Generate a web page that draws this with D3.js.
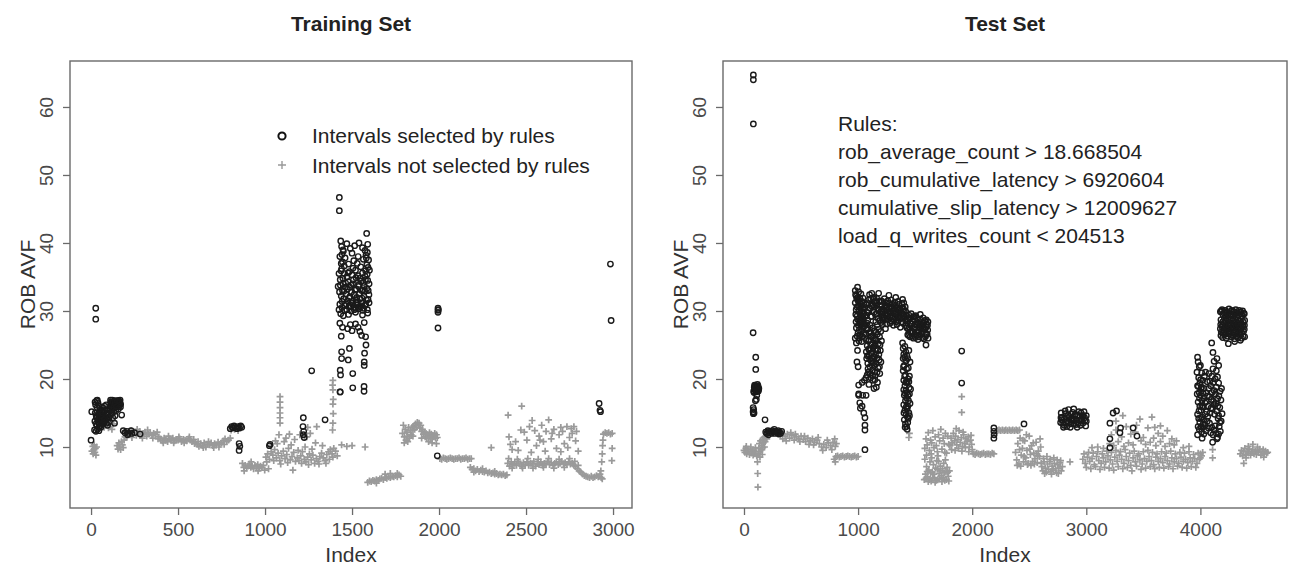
<!DOCTYPE html>
<html><head><meta charset="utf-8">
<script src="https://cdn.jsdelivr.net/npm/d3@7"></script>
<style>body{margin:0;background:#fff}svg{display:block;font-family:"Liberation Sans",Arial,sans-serif}</style>
</head><body><svg id="c" width="1293" height="566"></svg>
<script>
const panelTitles = ["Training Set", "Test Set"];
const xLabel = "Index", yLabel = "ROB AVF";
const yTicks = [10, 20, 30, 40, 50, 60];
const xTicksTrain = [0, 500, 1000, 1500, 2000, 2500, 3000];
const xTicksTest = [0, 1000, 2000, 3000, 4000];
const legendLabels = ["Intervals selected by rules", "Intervals not selected by rules"];
const ruleLines = ["Rules:", "rob_average_count > 18.668504", "rob_cumulative_latency > 6920604", "cumulative_slip_latency > 12009627", "load_q_writes_count < 204513"];

const trainNotSelected = [[5,9.4],[10,10.1],[12,9.0],[15,9.6],[18,10.3],[22,9.2],[25,9.8],[28,8.8],[32,10.0],
[55,13.2],[65,13.8],[75,12.9],[85,13.5],[95,14.2],[100,12.8],[110,13.0],[120,12.6],[130,13.4],
[150,10.2],[155,9.7],[160,10.6],[165,10.0],[170,9.6],[175,10.8],[180,10.3],[185,9.9],[190,11.0],[195,11.5],
[200,12.3],[210,11.8],[220,12.1],[230,12.4],[240,11.9],[250,12.2],[260,11.7],[270,12.0],[280,12.3],[290,11.8],[300,12.0],[310,12.2],[320,11.6],[330,11.9],[340,12.1],[350,11.7],[360,12.0],[370,11.8],[380,12.2],[390,11.5],
[205,11.5],[235,11.4],[265,12.6],[295,11.3],[325,12.5],[355,11.3],[385,11.2],
[400,11.2],[410,10.9],[420,11.3],[430,11.0],[440,10.8],[450,11.2],[460,11.0],[470,11.3],[480,10.9],[490,11.1],[500,11.0],[510,11.2],[520,10.8],[530,11.1],[540,11.0],[550,10.9],[560,11.2],[570,11.0],[580,10.8],[590,11.1],[600,10.7],
[415,10.6],[445,11.6],[475,10.6],[505,11.5],[535,10.6],[565,11.5],[595,10.5],
[610,10.4],[620,10.1],[630,10.5],[640,10.2],[650,10.6],[660,10.0],[670,10.4],[680,10.3],[690,10.6],[700,10.2],[710,10.5],[720,10.3],[730,10.7],[740,10.4],[750,10.6],[760,10.9],[770,11.2],[780,10.8],[790,11.0],[800,11.3],
[615,10.8],[645,9.9],[675,10.8],[705,9.9],[735,10.0],[765,10.4],
[805,12.5],[815,12.9],[825,12.6],[845,12.4],
[870,7.6],[878,7.0],[886,7.3],[894,6.9],[902,7.2],[910,7.5],[918,7.0],[926,7.2],[934,6.8],[942,7.3],[950,7.1],[958,7.4],[966,6.9],[974,7.2],[982,7.0],[990,7.3],[998,6.6],[880,6.5],[920,7.8],[960,6.5],
[1005,8.5],[1015,9.0],[1025,8.2],[1035,9.3],[1045,8.8],[1055,9.6],[1065,8.4],[1075,9.1],[1085,8.0],[1095,8.7],[1105,9.4],[1115,8.3],[1125,8.9],[1135,9.8],[1145,8.1],[1155,8.6],[1165,9.2],[1175,7.9],[1185,8.4],[1195,8.0],[1205,8.7],[1215,9.3],[1225,8.2],[1235,7.8],[1245,8.5],[1255,9.0],[1265,8.1],[1275,8.8],[1285,7.6],[1295,8.3],[1305,7.9],[1315,8.6],[1325,9.1],[1335,8.4],[1345,8.0],[1355,8.9],[1365,9.3],[1375,9.6],[1385,9.0],[1395,9.8],[1405,9.4],[1415,8.7],
[1010,7.8],[1030,10.2],[1050,8.0],[1070,10.5],[1090,7.5],[1110,10.8],[1130,7.7],[1150,10.3],[1170,11.1],[1190,9.5],[1210,7.6],[1230,10.0],[1250,7.4],[1270,9.7],[1290,10.6],[1310,7.5],[1330,10.2],[1350,7.6],[1370,8.2],[1390,8.5],[1020,6.8],[1160,6.6],[1240,11.5],[1260,12.0],[1200,11.8],[1120,11.3],[1140,11.9],[1060,10.9],[1080,11.8],
[1086,13.5],[1086,14.3],[1086,15.0],[1086,15.8],[1086,16.6],[1086,17.4],
[1388,12.5],[1390,13.5],[1392,14.9],[1390,16.3],[1392,17.0],[1390,18.4],[1388,19.1],[1390,19.8],
[1228,11.5],[1245,12.9],[1297,13.0],
[1440,10.3],[1470,10.1],[1500,10.2],[1575,10.0],
[1590,4.8],[1600,5.0],[1610,4.9],[1620,5.1],[1630,5.0],[1640,5.2],[1650,5.1],[1660,5.3],[1670,5.4],[1680,5.2],[1690,5.5],[1700,5.4],[1710,5.6],[1720,5.5],[1730,5.7],[1740,5.6],[1750,5.8],[1760,5.6],[1770,5.9],[1780,5.7],[1690,6.0],[1720,6.1],[1640,4.7],[1760,6.1],
[1790,12.0],[1795,13.2],[1800,11.5],[1805,12.6],[1810,11.0],[1815,12.2],[1820,11.6],[1825,12.9],[1830,11.3],[1835,12.4],[1840,11.8],[1845,12.9],[1850,12.5],[1855,13.1],[1860,12.6],[1865,13.4],[1870,12.9],[1875,13.6],[1880,13.2],[1885,13.5],[1890,12.8],[1895,13.2],[1900,12.3],[1905,12.6],[1910,11.9],[1915,12.2],[1920,11.5],[1925,12.0],[1930,11.3],[1935,11.8],[1940,11.6],[1945,12.1],[1950,11.4],[1955,11.9],[1960,11.2],[1965,11.7],[1970,11.5],[1975,12.0],[1980,11.3],[1985,11.8],[1990,11.4],[1800,10.6],[1820,10.8],[1850,11.6],[1900,11.3],[1940,10.8],[1960,10.6],[1985,10.5],
[2005,8.3],[2015,8.2],[2025,8.4],[2035,8.3],[2045,8.2],[2055,8.3],[2065,8.4],[2075,8.3],[2085,8.2],[2095,8.3],[2105,8.3],[2115,8.4],[2125,8.2],[2135,8.3],[2145,8.3],[2155,8.4],[2165,8.2],[2175,8.3],[2185,8.3],
[2180,7.0],[2190,6.7],[2200,6.8],[2210,6.5],[2220,6.7],[2230,6.4],[2240,6.6],[2250,6.4],[2260,6.3],[2270,6.5],[2280,6.2],[2290,6.3],[2300,6.1],[2310,6.2],[2320,6.0],[2330,6.1],[2340,5.9],[2350,6.0],[2360,5.9],[2370,6.0],[2380,5.8],[2390,5.9],[2200,6.3],[2250,6.8],[2320,6.4],
[2300,9.9],
[2395,7.6],[2405,7.2],[2415,7.8],[2425,7.4],[2435,7.6],[2445,7.3],[2455,7.9],[2465,7.5],[2475,7.2],[2485,7.7],[2495,7.4],[2505,7.8],[2515,7.3],[2525,7.6],[2535,7.5],[2545,7.9],[2555,7.2],[2565,7.6],[2575,7.4],[2585,7.8],[2595,7.3],[2605,7.6],[2615,7.5],[2625,7.9],[2635,7.4],[2645,7.7],[2655,7.3],[2665,7.6],[2675,7.8],[2685,7.4],[2695,7.6],[2705,7.9],[2715,7.5],[2725,7.7],[2735,7.4],[2745,7.8],[2755,7.5],[2765,7.6],[2775,7.3],[2785,7.1],[2795,6.8],[2805,6.5],[2815,6.3],[2825,6.0],[2835,5.8],[2845,5.7],
[2400,8.3],[2420,6.9],[2450,8.2],[2480,6.9],[2510,8.3],[2540,6.9],[2570,8.2],[2600,7.0],[2630,8.3],[2660,6.9],[2690,8.2],[2720,7.0],[2750,8.3],[2780,7.9],[2800,7.3],
[2397,14.7],[2402,11.5],[2410,10.4],[2420,9.6],[2440,10.8],[2475,16.0],[2490,12.2],[2505,11.0],[2520,13.0],[2535,13.9],[2550,12.4],[2560,10.2],[2575,11.6],[2590,13.2],[2600,10.8],[2615,12.3],[2630,14.0],[2645,11.2],[2660,12.6],[2675,9.8],[2690,11.8],[2700,12.9],[2720,10.5],[2735,13.0],[2750,11.4],[2760,12.7],[2775,13.0],[2785,10.9],[2800,9.4],[2455,9.5],[2530,9.2],[2610,9.4],[2700,9.3],[2470,12.5],[2580,11.0],[2650,12.0],[2710,12.3],[2740,9.9],[2765,12.0],[2790,12.3],
[2855,5.6],[2865,5.5],[2875,5.7],[2885,5.5],[2895,5.6],[2905,5.8],[2915,5.6],[2925,6.0],
[2930,6.5],[2935,7.8],[2938,9.0],[2940,10.2],[2942,11.0],[2932,5.5],
[2945,11.9],[2955,12.1],[2965,12.0],[2975,12.1],[2985,11.9],[2995,12.0],
[2995,9.8],[2993,8.0],[2938,5.3]];

const trainSelected = [[0,11.0],[4,15.2],[27,30.4],[27,28.8],
[20,12.5],[22,13.8],[24,15.0],[26,16.2],[28,12.3],[30,14.5],[32,16.8],[34,13.2],[35,15.8],[37,12.6],[38,14.0],[40,16.5],[42,13.6],[44,15.0],[45,12.4],[46,16.0],[48,14.4],[50,13.0],[52,15.5],[54,14.2],[56,13.5],[58,14.8],[60,13.9],[62,15.3],[64,14.0],[66,13.4],[68,15.8],[70,14.6],[72,13.6],[74,15.1],[76,14.2],[78,16.0],[80,13.8],[82,15.4],[85,14.5],[88,13.5],[90,15.0],[92,14.1],[95,13.2],[98,14.8],[100,13.6],[104,14.3],
[23,16.6],[29,13.4],[33,14.3],[36,16.9],[41,14.8],[47,13.0],[53,14.9],[57,12.9],[63,14.6],[67,15.0],[73,14.0],[77,15.4],[83,14.2],[87,16.2],[93,15.5],
[110,16.0],[113,16.6],[116,15.8],[119,16.4],[122,16.9],[125,16.2],[128,15.7],[131,16.5],[134,16.1],[137,16.8],[140,15.9],[143,16.4],[146,16.7],[149,16.0],[152,16.5],[155,16.2],[158,16.8],[161,16.0],[164,16.4],[167,16.9],[170,16.3],[120,15.0],[125,14.3],[135,13.5],[130,15.2],[115,14.8],
[112,16.9],[118,16.2],[124,15.5],[127,16.7],[133,15.8],[139,16.4],[145,15.9],[151,16.8],[157,15.6],[163,16.7],[169,15.9],[138,14.6],[142,15.3],
[176,14.7],
[185,12.4],[195,12.1],[205,12.3],[215,12.0],[210,11.8],[234,12.0],[282,11.9],[250,12.1],[230,12.4],
[800,12.7],[808,13.0],[815,12.8],[822,13.1],[830,12.9],[838,12.7],[845,13.0],[852,12.8],[860,13.1],[866,12.9],
[851,10.5],[851,9.5],[855,10.1],
[1029,10.4],[1025,10.2],
[1220,14.3],[1218,13.0],[1222,12.3],[1220,11.8],[1225,11.4],[1268,21.2],[1345,14.0],
[1427,46.7],[1427,44.75],[1584,41.4],
[1435,40.3],[1440,39.5],[1450,38.8],[1470,39.9],[1490,39.2],[1500,38.5],[1515,39.6],[1540,40.0],[1560,39.3],[1575,38.9],[1590,39.8],[1580,38.2],[1595,37.5],[1430,38.0],[1445,37.2],[1460,37.8],[1480,36.9],[1510,37.4],[1530,37.0],[1550,36.5],[1565,37.6],[1585,36.8],[1440,36.2],[1455,35.5],[1470,35.0],[1485,35.8],[1500,35.3],[1520,36.0],[1535,35.2],[1545,34.8],[1560,35.6],[1575,35.1],[1590,34.5],[1425,35.5],[1432,34.6],[1448,34.0],[1462,33.5],[1478,34.3],[1495,33.8],[1508,34.6],[1525,33.2],[1540,33.9],[1555,33.0],[1570,33.7],[1585,33.3],[1598,34.0],[1428,32.8],[1438,32.2],[1452,31.8],[1465,32.5],[1475,31.5],[1488,32.1],[1498,31.2],[1512,32.4],[1522,31.6],[1532,30.9],[1545,31.8],[1558,31.2],[1568,32.2],[1578,31.0],[1592,31.7],[1430,31.0],[1442,30.5],[1458,30.8],[1470,30.2],[1482,30.7],[1495,30.0],[1505,30.9],[1518,30.4],[1528,31.3],[1538,30.3],[1550,30.6],[1562,30.1],[1575,30.8],[1588,30.2],[1598,31.2],[1435,29.6],[1450,29.3],[1480,29.5],[1520,29.8],[1560,29.4],[1590,29.7],[1445,33.0],[1505,36.3],[1565,34.2],[1455,36.6],[1535,38.0],[1600,36.0],[1420,33.6],
[1425,30.2],[1433,33.8],[1437,35.9],[1443,31.4],[1447,34.8],[1453,32.9],[1457,30.1],[1463,34.1],[1467,31.0],[1473,33.2],[1477,35.6],[1483,31.9],[1487,33.5],[1493,30.6],[1497,32.8],[1503,34.0],[1507,31.5],[1513,30.2],[1517,33.1],[1523,34.9],[1527,32.0],[1533,30.5],[1537,33.6],[1543,32.5],[1547,30.8],[1553,34.4],[1557,31.9],[1563,33.1],[1567,30.4],[1573,32.9],[1577,34.6],[1583,31.6],[1587,35.4],[1593,33.0],[1597,32.4],[1582,37.8],[1588,38.6],[1592,36.4],[1578,35.9],[1448,39.0],[1442,38.3],[1438,37.0],
[1430,28.2],[1445,27.6],[1475,27.4],[1490,28.0],[1500,27.1],[1520,28.1],[1535,27.6],[1545,27.0],[1555,26.4],[1570,28.3],[1578,26.2],[1438,26.3],[1580,25.0],[1572,23.8],[1570,22.5],[1570,22.0],[1440,23.0],[1478,22.8],[1432,21.3],[1434,20.6],[1504,20.8],[1432,18.1],[1504,18.7],[1569,18.9],[1569,18.2],[1431,18.1],[1440,24.0],[1485,24.5],
[1994,30.4],[1994,30.1],[1994,29.8],[1996,30.2],[1994,27.5],[1990,8.7],
[2920,16.4],[2925,15.4],[2928,15.2],[2985,36.9],[2989,28.6]];

const testNotSelected = [[0,9.5],[8,9.2],[16,9.8],[24,9.0],[32,9.6],[40,9.3],[48,8.9],[56,9.7],[64,9.1],[72,9.4],[80,8.8],[88,9.5],[96,9.0],[104,9.3],[112,8.7],[20,10.1],[60,10.0],[100,9.9],
[118,7.8],[120,6.1],[122,4.1],
[125,9.0],[130,9.8],[135,10.5],[140,9.3],[145,10.9],[150,9.6],[155,10.2],[160,11.1],[165,9.9],[170,10.6],[175,11.4],[180,10.0],[185,10.8],[190,11.6],[195,12.3],[200,11.2],[140,8.5],[160,8.9],
[320,11.8],[340,11.2],[360,11.6],[380,11.9],[400,11.3],[420,11.7],[440,11.0],[460,11.5],[480,11.2],[500,11.6],[330,12.3],[370,10.9],[410,12.1],[450,11.9],[490,10.8],
[520,11.1],[540,10.8],[560,11.3],[580,10.9],[600,11.2],[620,10.7],[640,11.0],[530,11.6],[570,10.4],[610,10.3],[650,11.4],
[660,10.5],[680,10.0],[700,10.4],[720,9.9],[740,10.6],[760,10.2],[780,10.7],[800,10.1],[690,9.5],[730,11.0],[770,9.6],[795,11.2],[810,10.5],
[790,8.2],[805,8.6],[820,8.7],[835,8.5],[850,8.6],[865,8.7],[880,8.5],[895,8.6],[910,8.7],[925,8.6],[940,8.5],[955,8.6],[970,8.7],[985,8.5],[1000,8.6],[800,7.8],
[1450,12.0],[1445,11.4],
[1580,5.2],[1590,6.0],[1600,7.1],[1610,5.6],[1620,6.6],[1630,7.8],[1640,5.0],[1650,6.3],[1660,7.4],[1670,5.5],[1680,6.9],[1690,8.0],[1700,5.3],[1710,6.1],[1720,7.2],[1730,5.8],[1740,6.8],[1750,7.6],[1760,5.1],[1770,6.4],[1780,7.0],[1790,5.7],[1800,6.5],[1585,8.2],[1615,4.9],[1645,8.4],[1675,4.8],[1705,7.9],[1735,4.9],[1765,8.1],[1795,5.0],[1595,5.4],[1625,5.2],[1655,5.4],[1685,5.1],[1715,5.3],[1745,5.5],[1775,5.2],[1605,6.4],[1635,6.2],[1665,6.0],[1695,6.7],[1725,6.5],[1755,6.2],[1785,6.3],
[1585,9.8],[1595,11.2],[1605,10.3],[1615,12.1],[1625,9.5],[1635,11.0],[1645,10.6],[1655,12.4],[1665,9.9],[1675,11.5],[1685,10.2],[1695,9.3],[1705,11.8],[1715,10.9],[1725,12.6],[1735,9.7],[1745,11.3],[1755,10.5],[1765,12.0],[1775,9.1],[1785,11.6],[1795,10.4],[1600,8.8],[1640,9.0],[1700,8.7],[1760,9.2],
[1805,10.2],[1815,11.3],[1825,10.6],[1835,12.0],[1845,10.9],[1855,11.6],[1865,10.3],[1875,11.1],[1885,12.4],[1895,10.7],[1905,11.4],[1915,10.1],[1925,11.8],[1935,10.5],[1945,11.2],[1955,10.8],[1965,11.5],[1975,10.0],[1985,11.0],[1995,10.4],[1820,9.6],[1850,9.5],[1880,9.8],[1910,9.4],[1940,9.9],[1970,9.3],[2000,9.6],[1860,12.7],[1920,12.2],[1990,11.7],
[1908,17.4],[1908,15.1],
[2010,9.0],[2025,8.9],[2040,9.1],[2055,9.0],[2070,8.9],[2085,9.0],[2100,9.1],[2115,8.9],[2130,9.0],[2145,9.0],[2160,8.9],[2175,9.1],[2190,9.0],
[2220,12.4],[2235,12.5],[2250,12.4],[2265,12.5],[2280,12.4],[2295,12.5],[2310,12.4],[2325,12.5],[2340,12.4],[2355,12.5],[2370,12.4],[2385,12.5],[2400,12.4],[2415,12.5],
[2380,9.2],[2390,8.1],[2400,10.5],[2410,7.5],[2420,11.3],[2430,8.8],[2440,9.8],[2450,7.8],[2460,10.9],[2470,8.4],[2480,9.5],[2490,7.6],[2500,11.6],[2510,8.9],[2520,10.2],[2530,7.9],[2540,9.1],[2550,8.3],[2560,10.7],[2570,7.7],[2580,9.4],[2590,8.6],[2600,10.0],[2395,7.3],[2425,7.2],[2455,8.6],[2485,7.4],[2515,7.3],[2545,7.5],[2575,8.7],[2605,7.6],[2415,9.6],[2445,11.0],[2475,11.8],[2505,9.7],[2535,10.6],[2565,9.0],[2595,11.2],
[2610,7.1],[2620,6.5],[2630,7.8],[2640,6.9],[2650,6.3],[2660,7.5],[2670,6.7],[2680,7.9],[2690,6.4],[2700,7.2],[2710,6.6],[2720,7.6],[2730,6.8],[2740,6.2],[2750,7.4],[2760,6.9],[2770,7.7],[2780,6.5],[2790,7.1],[2625,8.3],[2655,8.6],[2685,8.2],[2715,8.4],[2745,8.1],[2775,8.0],[2635,6.1],[2695,6.0],[2755,6.1],
[2857,7.8],
[2970,8.2],[2990,7.6],[3010,8.5],[3030,7.9],[3050,8.3],[3070,7.4],[3090,8.6],[3110,8.0],[3130,7.6],[3150,8.4],[3170,7.8],[3190,8.7],[3210,8.1],[3230,7.5],[3250,8.5],[3270,7.9],[3290,8.8],[3310,8.2],[3330,7.6],[3350,8.6],[3370,8.0],[3390,7.3],[3410,8.4],[3430,7.8],[3450,8.7],[3470,8.1],[3490,7.5],[3510,8.3],[3530,7.9],[3550,8.6],[3570,8.0],[3590,7.4],[3610,8.5],[3630,7.9],[3650,8.3],[3670,7.7],[3690,8.6],[3710,8.0],[3730,7.5],[3750,8.4],[3770,7.8],[3790,8.3],[3810,7.6],[3830,8.5],[3850,7.9],[3870,8.2],[3890,7.7],[3910,8.4],[3930,7.9],[3950,8.3],[3970,7.6],[3990,8.2],
[2980,9.0],[3000,7.0],[3020,9.2],[3040,6.8],[3060,9.1],[3080,7.1],[3100,9.3],[3120,6.7],[3140,9.0],[3160,7.0],[3180,9.4],[3200,6.9],[3220,9.2],[3240,6.6],[3260,9.5],[3280,7.1],[3300,9.3],[3320,6.8],[3340,9.6],[3360,7.0],[3380,9.1],[3400,6.5],[3420,9.4],[3440,7.2],[3460,9.0],[3480,6.7],[3500,9.3],[3520,6.9],[3540,9.5],[3560,7.1],[3580,9.2],[3600,6.8],[3620,9.0],[3640,7.0],[3660,9.3],[3680,6.9],[3700,9.1],[3720,7.1],[3740,9.4],[3760,6.8],[3780,9.0],[3800,7.2],[3820,9.2],[3840,7.0],[3860,9.1],[3880,6.9],[3900,9.3],[3920,7.1],[3940,8.9],[3960,7.0],[3980,9.1],[4000,8.4],
[3205,10.5],[3220,11.8],[3240,10.2],[3260,12.5],[3280,10.8],[3310,11.5],[3330,10.1],[3350,13.0],[3370,10.6],[3390,11.9],[3410,10.3],[3430,12.2],[3470,14.1],[3480,10.9],[3500,11.4],[3520,10.4],[3540,12.8],[3560,10.7],[3575,14.4],[3590,11.3],[3610,10.2],[3630,12.0],[3650,10.8],[3670,11.6],[3690,10.1],[3710,12.4],[3730,10.5],[3750,11.2],[3770,10.3],[3790,10.9],[3260,13.8],[3320,14.6],[3440,13.2],[3650,13.1],[3600,12.9],[3150,9.8],[3100,10.0],[3050,9.9],[3850,9.9],[3900,10.1],
[4000,9.0],[4010,8.7],[4020,9.2],
[4107,9.6],[4107,8.4],
[4350,9.0],[4360,9.5],[4370,8.7],[4380,9.3],[4390,9.8],[4400,8.9],[4410,9.4],[4420,9.1],[4430,9.7],[4440,8.8],[4450,9.3],[4460,9.6],[4470,9.0],[4480,9.4],[4490,8.9],[4500,9.5],[4510,9.2],[4520,9.7],[4530,8.8],[4540,9.3],[4550,9.6],[4560,9.0],[4570,9.4],[4580,9.1],[4590,9.2],[4380,7.6],[4460,10.4],[4420,10.1],[4500,10.0],[4555,8.5],[4400,8.4]];

const testSelected = [[82,64.7],[82,64.0],[82,57.5],[80,26.8],[103,23.2],[103,21.4],
[85,18.2],[90,18.8],[95,18.4],[100,19.0],[105,18.3],[110,18.7],[115,18.5],[120,18.9],[125,18.2],[130,18.6],[112,17.6],[118,19.2],[108,17.0],[100,16.8],
[88,18.0],[93,19.1],[98,18.5],[103,18.1],[108,18.9],[113,18.2],[118,18.6],[123,19.0],[128,18.4],
[80,15.2],[82,14.9],[85,15.5],[88,15.0],[80,15.8],
[184,14.0],
[190,12.2],[200,12.0],[210,12.4],[220,12.1],[230,12.3],[240,12.0],[250,12.4],[260,12.2],[270,12.0],[280,12.3],[290,12.1],[300,12.4],[310,12.2],[320,12.0],[330,12.3],[215,11.8],[265,12.6],[305,11.9],
[975,33.0],[985,32.2],[995,33.5],[1005,32.8],[1015,31.9],[1025,32.5],[975,31.2],[990,30.6],[1000,31.5],[1010,30.2],[1020,31.0],[1030,29.8],[1040,30.5],[1050,29.6],[980,29.5],[995,28.8],[1005,29.9],[1015,28.4],[1025,29.2],[1035,28.0],[1045,28.9],[1055,27.8],[985,27.5],[1000,26.8],[1010,27.2],[1020,26.5],[1030,27.0],[1040,26.2],[975,26.0],[985,25.3],[995,24.2],[990,22.5],[1000,21.8],[1008,25.6],
[978,32.4],[983,30.2],[988,31.8],[993,29.3],[998,32.0],[1003,30.8],[1008,28.9],[1013,31.3],[1018,29.6],[1023,30.6],[1028,28.5],[1033,31.4],[1038,29.1],[1043,31.9],[1048,28.2],[1053,30.9],[982,28.4],[992,26.3],[1002,27.9],[1012,26.0],[1022,28.0],[1032,25.5],[1042,27.6],[1052,26.7],
[1005,19.1],[1005,17.6],[1015,16.5],[1020,15.7],[1060,14.3],[1060,13.2],[1060,12.5],[1060,9.6],[1005,17.8],[1040,17.6],[1035,16.0],[1050,15.0],[1055,19.8],[1070,17.6],[1035,19.5],
[1060,30.5],[1070,29.4],[1080,31.2],[1090,30.1],[1100,32.4],[1110,31.8],[1120,32.6],[1130,30.9],[1140,32.0],[1150,31.4],[1065,28.0],[1075,27.2],[1085,28.6],[1095,26.8],[1105,27.9],[1115,26.3],[1125,27.5],[1135,26.0],[1145,27.1],[1155,28.4],[1165,29.6],[1175,28.9],[1185,30.2],[1070,25.8],[1080,24.9],[1090,25.6],[1100,24.3],[1110,25.1],[1120,23.8],[1130,24.6],[1140,23.3],[1150,24.9],[1160,25.7],[1170,26.6],[1180,27.3],[1190,28.6],[1075,23.0],[1085,22.3],[1095,23.5],[1105,21.8],[1115,22.7],[1125,21.3],[1135,22.4],[1145,21.0],[1155,22.2],[1165,23.1],[1175,21.6],[1185,22.8],[1195,24.2],[1080,20.6],[1090,21.0],[1110,20.2],[1130,19.8],[1150,20.5],[1170,19.5],[1160,18.8],[1190,20.8],[1200,22.5],[1205,25.6],[1210,29.0],[1095,19.2],[1140,18.6],[1070,20.2],[1120,29.2],[1140,29.8],[1160,30.8],[1180,32.6],[1200,31.5],
[1062,29.2],[1072,31.0],[1082,29.8],[1092,31.6],[1102,30.4],[1112,29.2],[1122,30.7],[1132,31.8],[1142,30.6],[1152,29.5],[1162,31.9],[1172,30.3],[1182,31.4],[1068,26.6],[1078,28.2],[1088,27.4],[1098,25.7],[1108,26.9],[1118,25.0],[1128,26.3],[1138,24.8],[1148,25.9],[1158,26.9],[1168,28.0],[1178,25.2],[1188,26.2],[1198,27.0],[1072,24.0],[1082,23.4],[1092,24.4],[1102,22.9],[1112,23.8],[1122,22.4],[1132,23.0],[1142,22.0],[1152,23.6],[1162,24.5],[1172,24.2],[1182,23.6],[1192,25.0],[1087,21.5],[1107,20.8],[1127,20.5],[1147,19.9],[1167,21.0],[1187,21.8],
[1195,30.8],[1205,29.5],[1215,30.3],[1225,29.0],[1235,30.7],[1245,29.4],[1255,30.1],[1265,28.7],[1275,29.9],[1285,30.6],[1295,29.2],[1305,30.0],[1315,28.8],[1325,29.6],[1335,30.4],[1345,29.1],[1355,30.2],[1365,28.9],[1375,29.7],[1385,30.5],[1395,29.3],[1405,30.0],[1415,28.6],[1425,29.4],[1200,28.3],[1220,28.6],[1240,31.2],[1260,31.5],[1280,28.2],[1300,31.0],[1320,31.3],[1340,28.0],[1360,31.0],[1380,28.4],[1400,31.2],[1420,27.8],[1230,31.8],[1290,31.6],[1350,31.4],[1210,31.4],[1250,28.1],[1310,27.9],[1370,27.6],[1330,32.0],[1390,31.7],[1270,32.3],[1240,27.4],
[1198,29.9],[1208,30.7],[1218,29.2],[1228,30.1],[1238,29.6],[1248,30.6],[1258,29.3],[1268,30.5],[1278,29.1],[1288,29.7],[1298,30.4],[1308,29.1],[1318,30.0],[1328,29.0],[1338,29.7],[1348,30.4],[1358,29.3],[1368,30.2],[1378,29.0],[1388,29.6],[1398,30.3],[1408,29.1],[1418,29.9],[1203,30.0],[1233,28.8],[1263,29.7],[1293,28.5],[1323,30.8],[1353,28.6],[1383,31.1],[1413,30.6],[1213,28.0],[1273,31.1],[1333,28.4],[1393,28.2],
[1430,28.5],[1440,27.3],[1450,28.9],[1460,26.8],[1470,28.1],[1480,27.0],[1490,29.2],[1500,27.6],[1510,26.4],[1520,28.3],[1530,27.1],[1540,28.8],[1550,26.6],[1560,27.8],[1570,29.0],[1580,27.4],[1590,26.2],[1600,28.0],[1610,27.2],[1445,29.4],[1465,29.6],[1485,26.0],[1505,29.3],[1525,25.8],[1545,29.5],[1565,26.1],[1585,28.6],[1605,26.6],[1455,26.2],[1515,27.9],[1575,25.9],[1495,28.0],[1535,26.9],[1595,27.6],[1435,26.5],[1612,28.4],
[1428,27.5],[1438,28.8],[1448,27.6],[1458,28.2],[1468,27.0],[1478,28.5],[1488,27.4],[1498,26.6],[1508,28.0],[1518,26.9],[1528,28.2],[1538,27.5],[1548,28.0],[1558,27.0],[1568,27.6],[1578,28.2],[1588,27.3],[1598,28.7],[1608,27.9],[1443,26.4],[1473,26.3],[1503,26.1],[1533,26.2],[1563,26.9],[1593,26.5],[1613,26.0],[1453,29.0],[1483,29.1],[1513,29.0],[1543,28.3],[1573,28.3],
[1595,25.0],
[1390,25.3],[1395,24.5],[1400,23.6],[1410,24.8],[1420,22.7],[1405,22.0],[1395,21.2],[1415,20.6],[1425,21.5],[1400,19.8],[1410,19.0],[1420,18.3],[1430,19.5],[1405,17.6],[1415,16.8],[1425,17.2],[1435,16.0],[1400,16.2],[1410,15.4],[1420,14.8],[1430,15.6],[1440,14.2],[1405,14.0],[1415,13.4],[1425,13.0],[1435,13.6],[1445,15.0],[1450,17.8],[1445,19.6],[1440,21.6],[1435,23.0],[1450,20.4],[1455,22.5],[1445,24.2],[1460,18.5],[1455,16.4],[1450,14.6],[1430,12.6],[1400,18.4],[1395,23.0],
[1398,21.8],[1408,20.4],[1418,19.5],[1428,18.0],[1438,17.6],[1412,17.9],[1422,15.9],[1432,14.4],[1442,16.8],[1402,15.0],[1412,12.9],[1418,24.0],[1428,23.4],[1438,20.0],[1448,18.7],[1408,23.2],
[1908,24.1],[1908,19.4],
[2190,12.8],[2190,12.3],[2192,11.8],[2190,11.3],
[2454,13.4],
[2775,13.6],[2790,14.4],[2805,13.2],[2820,14.9],[2835,13.8],[2850,14.5],[2865,13.4],[2880,15.1],[2895,14.0],[2910,13.3],[2925,14.7],[2940,13.9],[2955,15.0],[2970,13.5],[2985,14.3],[3000,13.8],[2780,15.0],[2800,12.9],[2815,15.3],[2830,13.0],[2845,15.5],[2860,12.9],[2875,14.0],[2890,15.6],[2905,14.8],[2920,12.9],[2935,15.2],[2950,13.2],[2965,14.6],[2980,15.2],[2995,13.1],[2785,14.0],[2870,14.8],[2960,14.1],[2890,13.4],
[2778,14.3],[2793,13.5],[2808,14.1],[2823,13.6],[2838,14.7],[2853,13.6],[2868,14.2],[2883,13.8],[2898,14.6],[2913,14.0],[2928,13.5],[2943,14.5],[2958,13.8],[2973,14.6],[2988,13.9],[3000,14.6],
[3207,13.5],[3207,11.2],[3207,9.9],[3235,15.0],[3265,15.3],[3300,12.8],[3295,12.1],[3410,12.8],[3444,11.6],
[4099,25.3],[4110,23.9],[3975,23.2],[3980,22.5],[3975,11.8],[4107,10.7],
[3970,21.0],[3985,20.2],[3995,19.4],[4005,18.6],[3975,19.0],[3990,18.0],[4000,17.6],[4010,18.8],[4020,19.8],[4030,17.2],[3980,16.6],[3995,16.0],[4005,15.4],[4015,16.8],[4025,15.9],[3975,14.8],[3985,14.2],[3995,13.6],[4005,13.0],[4015,14.4],[4025,13.4],[3980,13.0],[3990,12.6],[4010,12.2],[4030,14.0],[4040,13.2],[4050,12.4],[4060,13.8],[4070,12.8],[4080,13.5],[4090,12.1],[4100,12.9],[4110,11.8],[4120,12.5],[4130,13.1],[4140,12.0],[4150,11.4],[4040,16.5],[4050,18.0],[4060,19.6],[4070,16.0],[4080,17.4],[4090,19.0],[4100,20.4],[4110,21.5],[4120,18.3],[4130,20.0],[4140,21.2],[4150,17.1],[4160,19.4],[4170,15.8],[4180,16.9],[4190,14.9],[4160,22.0],[4145,23.0],[4120,22.6],[4045,21.0],[4075,20.8],[4085,15.0],[4105,15.6],[4125,14.8],[4135,16.4],[4155,14.2],[4165,13.0],[4175,12.3],[4055,15.2],[4065,14.5],[4035,20.4],[4095,17.0],[4115,16.7],[3990,21.8],[4000,22.0],[4012,20.9],[4140,18.8],[4150,20.3],[4160,11.9],[4145,11.2],[4185,18.6],[4030,11.9],[4015,11.3],
[3972,17.8],[3982,18.9],[3992,17.2],[4002,19.9],[4022,17.9],[4032,18.6],[4042,14.8],[4052,16.7],[4062,17.5],[4072,18.6],[4082,19.7],[4092,15.7],[4102,18.0],[4112,19.5],[4122,16.2],[4132,17.8],[4142,15.3],[4152,16.0],[4162,17.5],[4172,18.2],[4182,13.8],[4012,15.9],[4022,12.9],[4002,14.2],[3988,15.3],[4160,14.6],[4170,13.6],
[4175,29.9],[4190,30.2],[4205,29.7],[4220,30.1],[4235,29.8],[4250,30.3],[4265,29.6],[4280,30.0],[4295,29.9],[4310,30.2],[4325,29.7],[4340,30.1],[4355,29.8],[4370,30.0],[4385,29.6],
[4180,28.7],[4195,28.4],[4210,28.9],[4225,28.5],[4240,28.8],[4255,28.3],[4270,28.7],[4285,28.6],[4300,28.9],[4315,28.4],[4330,28.7],[4345,28.5],[4360,28.8],[4375,28.4],[4388,28.6],
[4175,27.4],[4190,27.7],[4205,27.2],[4220,27.6],[4235,27.3],[4250,27.8],[4265,27.4],[4280,27.5],[4295,27.2],[4310,27.7],[4325,27.3],[4340,27.6],[4355,27.4],[4370,27.7],[4385,27.3],
[4180,26.4],[4195,26.1],[4210,26.5],[4225,26.0],[4240,26.3],[4255,26.6],[4270,26.2],[4285,26.4],[4300,25.9],[4315,26.3],[4330,26.1],[4345,26.5],[4360,26.0],[4375,26.3],[4388,26.2],
[4183,30.0],[4198,29.4],[4213,29.9],[4228,29.3],[4243,29.6],[4258,29.2],[4273,30.1],[4288,29.3],[4303,29.6],[4318,29.1],[4333,29.4],[4348,29.9],[4363,29.3],[4378,29.7],[4178,28.0],[4193,27.9],[4208,28.2],[4223,27.8],[4238,28.0],[4253,27.9],[4268,28.1],[4283,27.9],[4298,28.2],[4313,27.8],[4328,28.0],[4343,27.9],[4358,28.1],[4373,27.9],[4386,27.9],[4183,26.9],[4198,26.8],[4213,27.0],[4228,26.8],[4243,26.9],[4258,27.0],[4273,26.8],[4288,26.9],[4303,26.8],[4318,27.0],[4333,26.8],[4348,26.9],[4363,26.8],[4378,27.0],
[4245,25.2],[4300,25.5],[4350,25.7]];

const svg = d3.select("#c");
const yDomain = [1.03, 66.76];
const panels = [
  {title: panelTitles[0], sel: trainSelected, other: trainNotSelected, xd: [-121, 3109], xr: [70, 632], ticks: xTicksTrain},
  {title: panelTitles[1], sel: testSelected, other: testNotSelected, xd: [-184, 4759], xr: [723, 1287], ticks: xTicksTest}
];
const boxColor = "#6a6a6a", tickText = "#4a4a4a", dark = "#222";
const crossPath = "M-3.4,0H3.4M0,-3.4V3.4";

panels.forEach((p, i) => {
  const x = d3.scaleLinear().domain(p.xd).range(p.xr);
  const y = d3.scaleLinear().domain(yDomain).range([508, 61]);
  const g = svg.append("g");
  const xa = g.append("g").attr("transform", "translate(0,508)")
    .call(d3.axisBottom(x).tickValues(p.ticks).tickFormat(d3.format("d")).tickSize(7).tickPadding(8).tickSizeOuter(0));
  xa.select(".domain").remove();
  xa.selectAll("line").attr("stroke", boxColor).attr("stroke-width", 1.3);
  xa.selectAll("text").attr("fill", tickText).attr("font-size", 19).attr("font-family", "Liberation Sans, Arial, sans-serif");
  const ya = g.append("g").attr("transform", `translate(${p.xr[0]},0)`)
    .call(d3.axisLeft(y).tickValues(yTicks).tickFormat(d3.format("d")).tickSize(7).tickSizeOuter(0));
  ya.select(".domain").remove();
  ya.selectAll("line").attr("stroke", boxColor).attr("stroke-width", 1.3);
  ya.selectAll("text").attr("fill", tickText).attr("font-size", 19).attr("font-family", "Liberation Sans, Arial, sans-serif")
    .attr("x", 0).attr("dy", 0).attr("text-anchor", "middle").attr("transform", "translate(-17,0) rotate(-90)");
  g.append("rect").attr("x", p.xr[0]).attr("y", 61).attr("width", p.xr[1]-p.xr[0]).attr("height", 447)
    .attr("fill", "none").attr("stroke", boxColor).attr("stroke-width", 1.4);
  g.append("g").selectAll("path").data(p.other).join("path")
    .attr("transform", d => `translate(${x(d[0])},${y(d[1])})`).attr("d", crossPath)
    .attr("stroke", "#9a9a9a").attr("stroke-width", 1.7).attr("fill", "none");
  g.append("g").selectAll("circle").data(p.sel).join("circle")
    .attr("cx", d => x(d[0])).attr("cy", d => y(d[1])).attr("r", 2.7)
    .attr("fill", "none").attr("stroke", "#1a1a1a").attr("stroke-width", 1.4);
  const cx = (p.xr[0]+p.xr[1])/2;
  svg.append("text").attr("x", cx).attr("y", 31).attr("text-anchor", "middle")
    .attr("font-size", 21).attr("font-weight", "bold").attr("fill", dark).text(p.title);
  svg.append("text").attr("x", cx).attr("y", 562).attr("text-anchor", "middle")
    .attr("font-size", 21).attr("fill", "#333").text(xLabel);
  svg.append("text").attr("transform", `translate(${p.xr[0]-35},284.5) rotate(-90)`).attr("text-anchor", "middle")
    .attr("font-size", 21).attr("fill", "#333").text(yLabel);
});

const lg = svg.append("g");
lg.append("circle").attr("cx", 282).attr("cy", 136).attr("r", 3.6).attr("fill", "none").attr("stroke", "#111").attr("stroke-width", 2);
lg.append("path").attr("transform", "translate(282,165)").attr("d", "M-4,0H4M0,-4V4").attr("stroke", "#999").attr("stroke-width", 1.4);
lg.selectAll("text").data(legendLabels).join("text")
  .attr("x", 312).attr("y", (d, i) => 143 + i * 29.5).attr("font-size", 21).attr("fill", dark).text(d => d);

svg.append("g").selectAll("text").data(ruleLines).join("text")
  .attr("x", 838).attr("y", (d, i) => 131 + i * 28).attr("font-size", 21).attr("fill", dark).text(d => d);
</script></body></html>
